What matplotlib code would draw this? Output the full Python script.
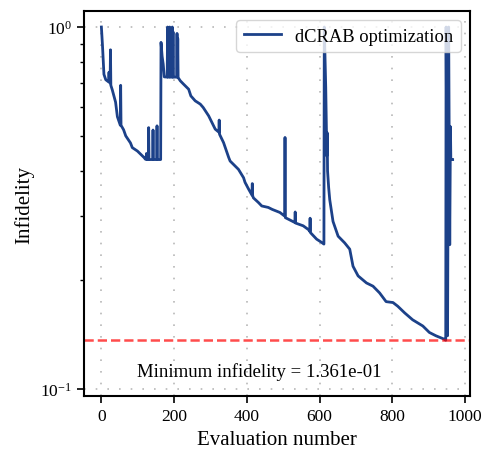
import numpy as np
import matplotlib
matplotlib.use("Agg")
import matplotlib.pyplot as plt

plt.rcParams["font.family"] = ["Liberation Serif", "DejaVu Serif"]
plt.rcParams["mathtext.fontset"] = "stix"

# evaluation number / infidelity (vertices)
eval_num = [0, 3, 7, 12, 20, 21, 22, 24, 25, 26, 30, 39, 44, 52, 53, 54, 61, 67,
            80, 85, 99, 110, 117, 121, 123, 124, 125, 129, 130, 131, 141, 142,
            143, 152, 153, 154, 163, 164, 167, 170, 173, 181, 182, 183, 187,
            188, 189, 194, 195, 196, 197, 198, 207, 208, 209, 210, 211, 217,
            226, 240, 246, 258, 272, 280, 295, 313, 323, 324, 325, 336, 350,
            354, 372, 377, 391, 395, 405, 414, 415, 416, 418, 432, 441, 459,
            470, 491, 504, 505, 506, 520, 532, 533, 534, 555, 570, 573, 574,
            575, 592, 605, 612, 613, 617, 619, 620, 621, 622, 625, 628, 632,
            637, 651, 669, 683, 692, 706, 729, 747, 765, 783, 802, 815, 834,
            856, 870, 884, 902, 920, 943, 947, 948, 952, 955, 958, 960, 961,
            966]
infidelity = [1.0, 0.89, 0.74, 0.715, 0.705, 0.75, 0.705, 0.70, 0.865, 0.69,
              0.67, 0.62, 0.565, 0.535, 0.69, 0.535, 0.52, 0.50, 0.478, 0.464,
              0.454, 0.443, 0.436, 0.431, 0.431, 0.447, 0.430, 0.430, 0.527,
              0.430, 0.430, 0.519, 0.430, 0.430, 0.533, 0.430, 0.430, 0.907,
              0.83, 0.79, 0.728, 0.727, 1.0, 0.727, 0.727, 1.0, 0.727, 0.727,
              1.0, 0.727, 0.97, 0.727, 0.727, 0.96, 0.727, 0.93, 0.725, 0.71,
              0.695, 0.673, 0.645, 0.625, 0.612, 0.599, 0.568, 0.522, 0.512,
              0.553, 0.505, 0.479, 0.436, 0.426, 0.409, 0.404, 0.383, 0.372,
              0.356, 0.343, 0.369, 0.342, 0.337, 0.327, 0.320, 0.317, 0.313,
              0.307, 0.300, 0.495, 0.297, 0.292, 0.288, 0.308, 0.287, 0.282,
              0.275, 0.272, 0.296, 0.270, 0.259, 0.254, 0.251, 1.0, 0.68, 0.52,
              0.44, 0.51, 0.40, 0.36, 0.333, 0.313, 0.29, 0.264, 0.253, 0.243,
              0.218, 0.205, 0.196, 0.192, 0.184, 0.174, 0.173, 0.169, 0.162,
              0.155, 0.152, 0.149, 0.143, 0.140, 0.137, 0.1361, 1.0, 0.14, 1.0,
              0.25, 0.53, 0.43, 0.43]

min_infidelity = min(infidelity)

fig = plt.figure(figsize=(4.96, 4.64), dpi=100)
ax = fig.add_axes([0.169, 0.144, 0.779, 0.830])

ax.plot(eval_num, infidelity, color="#1c4189", lw=2.0, label="dCRAB optimization")
ax.axhline(min_infidelity, color="red", ls="--", lw=1.8, alpha=0.7)
ax.text(0.453, 0.065, f"Minimum infidelity = {min_infidelity:.3e}",
        transform=ax.transAxes, ha="center", va="center", fontsize=13.5)

ax.set_yscale("log")
ax.set_ylim(0.0953, 1.107)
ax.set_xticks([0, 200, 400, 600, 800, 1000])
ax.set_xlabel("Evaluation number", fontsize=15)
ax.set_ylabel("Infidelity", fontsize=15)
ax.tick_params(labelsize=12.5, width=1.2, length=5)
ax.tick_params(which="minor", width=1.0, length=3)
ax.grid(True, which="major", color="#b8b8b8", ls=(0, (1, 6)), lw=1.2)
for sp in ax.spines.values():
    sp.set_linewidth(1.5)

ax.legend(loc="upper right", fontsize=13.3, handlelength=2.0,
          borderaxespad=0.5, fancybox=True)

fig.savefig("out.png", dpi=100)
